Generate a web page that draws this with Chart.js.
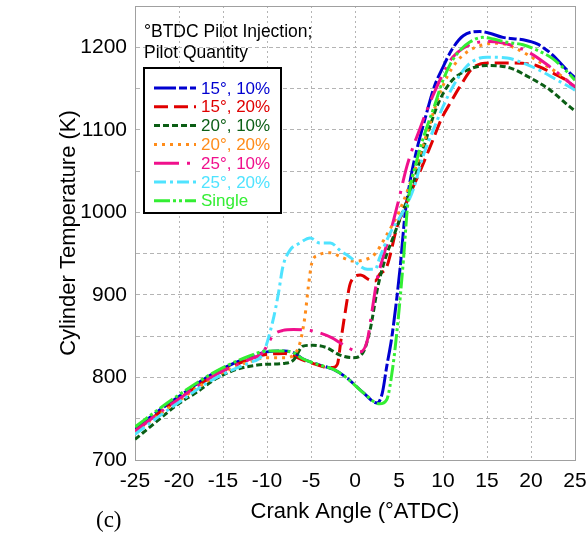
<!DOCTYPE html>
<html>
<head>
<meta charset="utf-8">
<script src="https://cdn.jsdelivr.net/npm/chart.js@4"></script>
<style>
  body { margin: 0; background: #fff; }
  canvas { display: block; }
</style>
</head>
<body>
<canvas id="tempChart" width="587" height="540"></canvas>
<script>
// crank angle (°ATDC) and cylinder temperature (K)
const blueAngle = [-25,-22,-20,-17,-15,-12,-10,-8,-7,-6,-4,-2.5,-1,1,2.5,3.1,3.6,4.2,5.1,5.7,6.3,7,8,9,10,11,12.3,14.2,15.3,16.8,19.1,20.7,22.2,24.4,25];
const blueTemp = [738,762,777,799,811,825,831,832,830,823,815,810,800,781,769,781,813,850,930,999,1040,1075,1115,1152,1176,1197,1214,1219,1217,1212,1209,1204,1193,1169,1163];

const redAngle = [-25,-22,-20,-17,-15,-12,-10,-8,-7,-5.9,-4.8,-3.6,-2.5,-2,-1.6,-1.1,-0.5,0.6,1.7,2.3,2.8,3.6,4.8,6.3,7.4,8.75,9.9,10.8,11.9,13.4,15.3,17.6,20.2,22.2,24.4,25];
const redTemp = [735,759,774,796,808,822,828,829,826,821,817,813,812,816,845,880,915,924,918,917,925,934,983,1023,1050,1085,1115,1132,1152,1175,1181,1181,1179,1170,1157,1150];

const darkAngle = [-25,-22.5,-20.2,-18,-15.7,-13.4,-11.1,-10,-8,-7,-5.9,-4.8,-3.2,-1.7,-0.2,0.9,1.7,2.6,3.5,4.2,5.5,6.6,7.7,9.3,10.8,12.7,15,17.6,19.9,22.2,24.4,25];
const darkTemp = [725,747,767,782,799,810,815,816,817,821,838,839,836,827,824,830,857,910,946,966,1003,1035,1075,1128,1157,1172,1178,1175,1163,1148,1128,1123];

const orangeAngle = [-25,-22,-20,-17,-15,-12,-10,-8,-7,-6.25,-5.7,-5.3,-4.9,-4.2,-2.8,-1.4,-0.2,0.9,2.3,3.4,5.1,6.6,8,9.5,10.5,11.6,12.7,14.2,16.1,18,21,23,25];
const orangeTemp = [734,757,772,794,806,819,824,824,827,842,873,910,939,948,951,945,941,942,950,969,1003,1045,1090,1140,1165,1183,1194,1202,1205,1200,1182,1169,1152];

const pinkAngle = [-25,-22,-20,-17,-15,-12,-10.5,-9.3,-8.2,-7,-5.1,-4,-2.6,-1.7,-0.2,0.6,1.4,1.9,2.5,3.2,4,4.9,5.9,7.5,9,10.5,11.1,13,15.3,17.6,19.9,22.2,24.4,25];
const pinkTemp = [735,759,774,796,808,822,830,851,857,858,857,854,848,842,833,831,845,878,918,946,975,1012,1056,1105,1145,1178,1188,1203,1207,1203,1193,1176,1157,1152];

const cyanAngle = [-25,-22,-20,-17,-15,-12,-10.5,-9.3,-8.7,-8.2,-7.4,-6.25,-5.1,-4,-2.8,-1.7,-0.6,1.4,2.3,2.8,4,5.1,6.6,7.7,8.9,10,11.1,12.7,14.2,15,17.3,19.1,21,23,24.4,25];
const cyanTemp = [731,755,770,792,804,818,828,870,902,934,954,963,969,963,963,954,946,931,931,945,975,994,1027,1067,1100,1128,1152,1177,1187,1188,1187,1181,1172,1160,1152,1148];

const singleAngle = [-25,-22,-20,-17,-15,-12,-10,-8,-7,-6,-4,-2.5,-1,1,2.8,3.6,4.3,4.9,5.5,6,7,8,9,10,11,12,13,14.5,17.3,19.1,21,22.5,24.4,25];
const singleTemp = [740,764,779,800,812,826,832,832,830,823,815,810,800,781,768,773,813,870,942,1010,1062,1098,1128,1160,1183,1197,1206,1212,1206,1203,1195,1186,1167,1160];

const seriesLabels = ['15°, 10%', '15°, 20%', '20°, 10%', '20°, 20%', '25°, 10%', '25°, 20%', 'Single'];
const legendTitle = ['°BTDC Pilot Injection;', 'Pilot Quantity'];
const angleTicks = [-25, -20, -15, -10, -5, 0, 5, 10, 15, 20, 25];

const FONT = '"Liberation Sans", Arial, sans-serif';

function toPoints(xs, ys) {
    return xs.map((x, i) => ({ x: x, y: ys[i] }));
}

function makeSet(label, xs, ys, color, dash, order) {
    return {
        label: label,
        data: toPoints(xs, ys),
        borderColor: color,
        backgroundColor: color,
        borderWidth: 3,
        borderDash: dash,
        borderCapStyle: 'butt',
        pointRadius: 0,
        fill: false,
        cubicInterpolationMode: 'monotone',
        order: order
    };
}

// frame round the plot + the boxed legend with its title
const decorations = {
    id: 'decorations',
    beforeDatasetsDraw(chart) {
        const a = chart.chartArea;
        const ctx = chart.ctx;
        ctx.save();
        ctx.strokeStyle = '#a0a0a0';
        ctx.lineWidth = 1;
        ctx.strokeRect(a.left + 0.5, a.top + 0.5, a.right - a.left, a.bottom - a.top);
        ctx.restore();
    },
    afterDraw(chart) {
        const ctx = chart.ctx;
        ctx.save();
        ctx.fillStyle = '#000';
        ctx.font = '17.5px ' + FONT;
        ctx.textBaseline = 'middle';
        ctx.textAlign = 'left';
        ctx.fillText(legendTitle[0], 144, 32);
        ctx.fillText(legendTitle[1], 144, 53);

        ctx.fillStyle = '#fff';
        ctx.fillRect(144, 68, 137, 145);
        ctx.strokeStyle = '#000';
        ctx.lineWidth = 2;
        ctx.strokeRect(144, 68, 137, 145);

        ctx.font = '17px ' + FONT;
        chart.data.datasets.forEach(function(ds, i) {
            const y = 88 + i * 18.8;
            ctx.beginPath();
            ctx.setLineDash(ds.borderDash);
            ctx.strokeStyle = ds.borderColor;
            ctx.lineWidth = 3;
            ctx.moveTo(154, y);
            ctx.lineTo(196, y);
            ctx.stroke();
            ctx.setLineDash([]);
            ctx.fillStyle = ds.borderColor;
            ctx.fillText(ds.label, 201, y + 1);
        });

        ctx.fillStyle = '#000';
        ctx.font = '23px "Liberation Serif", "Times New Roman", serif';
        ctx.fillText('(c)', 96, 521);
        ctx.restore();
    }
};

const chart = new Chart(document.getElementById('tempChart'), {
    type: 'line',
    data: {
        datasets: [
            makeSet(seriesLabels[0], blueAngle, blueTemp, '#0000d0', [22, 3, 8, 3], 7),
            makeSet(seriesLabels[1], redAngle, redTemp, '#e00000', [14, 6], 6),
            makeSet(seriesLabels[2], darkAngle, darkTemp, '#0b5e15', [6, 3], 5),
            makeSet(seriesLabels[3], orangeAngle, orangeTemp, '#ff8c1a', [3, 5], 4),
            makeSet(seriesLabels[4], pinkAngle, pinkTemp, '#f0108c', [25, 8, 3, 8], 3),
            makeSet(seriesLabels[5], cyanAngle, cyanTemp, '#4fe3ff', [12, 4, 3, 4], 2),
            makeSet(seriesLabels[6], singleAngle, singleTemp, '#33ee33', [16, 3, 3, 3, 3, 3], 1)
        ]
    },
    options: {
        responsive: false,
        animation: false,
        devicePixelRatio: 1,
        layout: { padding: { top: 6, right: 12, left: 0, bottom: 0 } },
        plugins: {
            legend: { display: false },
            tooltip: { enabled: false }
        },
        scales: {
            x: {
                type: 'linear',
                min: -25,
                max: 25,
                afterFit: function(scale) {
                    scale.height = 80;
                    scale.paddingLeft = 0;
                    scale.paddingRight = 0;
                },
                afterBuildTicks: function(scale) {
                    scale.ticks = angleTicks.map(v => ({ value: v }));
                },
                ticks: {
                    color: '#000',
                    font: { family: FONT, size: 21 },
                    padding: 9,
                    maxRotation: 0,
                    autoSkip: false,
                    callback: v => String(v)
                },
                grid: { color: '#b4b4b4', lineWidth: 1, drawTicks: false },
                border: { color: '#a0a0a0', dash: [2, 3] },
                title: {
                    display: true,
                    text: 'Crank Angle (°ATDC)',
                    color: '#000',
                    font: { family: FONT, size: 22 },
                    padding: { top: 0, bottom: 15 }
                }
            },
            y: {
                min: 700,
                max: 1250,
                afterFit: function(scale) {
                    scale.width = 135;
                    scale.paddingTop = 0;
                    scale.paddingBottom = 0;
                },
                ticks: {
                    stepSize: 50,
                    color: '#000',
                    font: { family: FONT, size: 21 },
                    padding: 8,
                    callback: v => (v % 100 === 0 ? String(v) : '')
                },
                grid: { color: '#b4b4b4', lineWidth: 1, drawTicks: false },
                border: { color: '#a0a0a0', dash: [4, 3] },
                title: {
                    display: true,
                    text: 'Cylinder Temperature (K)',
                    color: '#000',
                    font: { family: FONT, size: 22 },
                    padding: { top: 56, bottom: 0 }
                }
            }
        }
    },
    plugins: [decorations]
});
</script>
</body>
</html>
